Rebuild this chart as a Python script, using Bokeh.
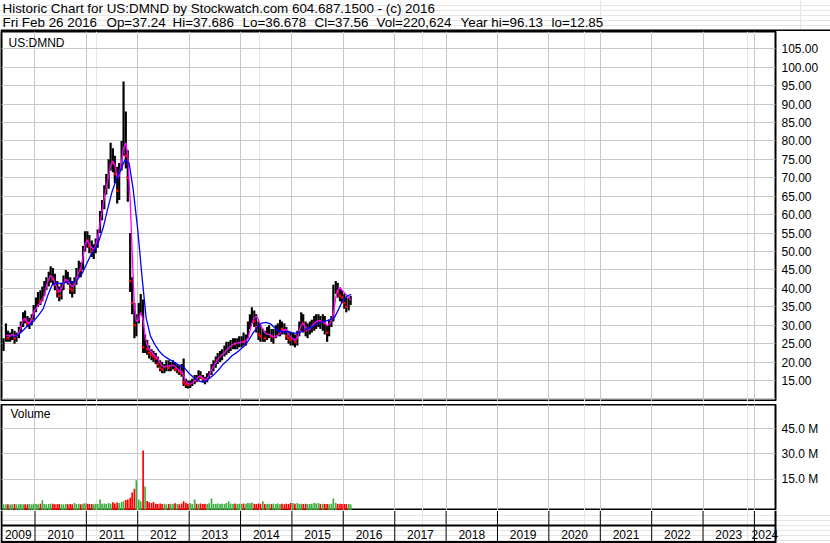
from datetime import datetime
import pandas as pd
from bokeh.plotting import figure
from bokeh.layouts import column
from bokeh.models import Range1d, FixedTicker, PrintfTickFormatter, ColumnDataSource, Label, Grid
from bokeh.core.properties import value
from bokeh.embed import file_html
from bokeh.resources import INLINE

# ---------------- data (semi-monthly periods, mid-May 2009 .. Feb 26 2016) ----------------
period_start = pd.date_range("2009-05-15", "2016-02-15", freq="SMS")

highs = [
    26.5, 30.5, 28.5, 28.0, 29.0, 28.5, 28.0, 29.5, 31.0, 33.5, 34.0, 32.5, 32.0, 33.0, 35.5,
    37.5, 39.0, 39.5, 40.5, 42.0, 43.0, 44.5, 46.0, 45.5, 44.0, 42.0, 40.5, 41.5, 43.5, 45.0, 44.5, 43.0, 42.0, 43.0, 45.5, 47.5, 47.0, 51.5, 55.5,
    55.5, 54.5, 53.0, 52.0, 53.5, 56.0, 61.0, 64.0, 68.0, 71.0, 75.0, 79.5, 78.0, 76.0, 73.0, 74.0, 80.0, 96.13, 88.0, 77.5, 55.0, 43.0, 36.0, 33.0,
    36.0, 38.5, 37.0, 27.5, 26.0, 24.5, 23.5, 23.0, 22.5, 21.5, 20.5, 20.0, 19.5, 20.5, 20.5, 20.0, 20.5, 20.0, 19.5, 19.0, 19.5, 21.0, 15.5, 15.0,
    15.0, 15.5, 16.5, 16.5, 17.8, 17.5, 16.5, 16.0, 17.0, 17.5, 19.5, 20.5, 21.5, 22.5, 23.0, 23.5, 24.5, 25.5, 25.5, 26.0, 26.5, 26.5, 26.5, 27.0,
    27.0, 28.0, 27.5, 31.0, 33.0, 34.9, 34.0, 33.0, 31.0, 30.0, 29.0, 28.5, 29.5, 30.0, 29.0, 29.0, 30.0, 30.5, 31.5, 31.0, 30.5, 29.5, 28.5, 28.0,
    28.0, 27.5, 28.5, 31.0, 33.5, 33.0, 31.0, 30.5, 31.0, 31.5, 32.5, 33.0, 33.0, 32.5, 33.0, 32.5, 30.0, 31.5, 32.5, 41.0, 42.0, 41.5, 40.0, 39.5,
    38.5, 37.5, 37.5, 38.0,
]
lows = [
    23.0, 25.5, 25.5, 25.5, 26.0, 25.0, 25.5, 26.5, 28.0, 29.5, 30.5, 29.5, 29.0, 30.0, 31.5,
    33.5, 35.0, 35.5, 36.5, 38.0, 39.5, 40.5, 41.5, 41.0, 39.5, 37.5, 36.5, 37.0, 39.5, 41.5, 41.0, 38.5, 37.5, 38.5, 41.0, 43.0, 43.0, 45.0, 50.0,
    51.0, 49.5, 48.5, 48.0, 49.5, 51.0, 55.0, 58.5, 61.5, 65.5, 67.0, 72.0, 71.5, 68.5, 63.0, 64.0, 72.0, 76.0, 72.5, 63.5, 39.0, 33.0, 26.5, 27.0,
    30.5, 33.0, 22.5, 22.5, 22.0, 21.0, 20.5, 20.0, 19.5, 18.5, 17.5, 17.0, 17.0, 17.5, 17.5, 17.5, 18.0, 17.5, 17.0, 16.5, 16.0, 13.5, 13.0, 12.85,
    13.0, 13.5, 14.0, 14.5, 15.0, 15.5, 14.5, 14.0, 14.5, 15.5, 16.5, 17.5, 18.5, 19.5, 20.0, 20.5, 21.5, 22.0, 22.5, 23.0, 23.5, 23.5, 23.5, 24.0,
    24.0, 24.5, 24.5, 26.5, 29.0, 30.5, 29.5, 28.0, 26.0, 25.5, 25.5, 25.5, 26.0, 26.5, 25.5, 25.0, 26.5, 27.0, 27.0, 27.5, 27.5, 26.0, 25.0, 24.5,
    24.5, 24.0, 24.5, 27.0, 28.5, 28.0, 27.0, 26.5, 27.5, 28.0, 28.5, 29.0, 29.5, 29.0, 28.5, 27.5, 25.5, 27.0, 29.5, 31.0, 38.5, 37.5, 36.5, 36.0,
    34.5, 33.5, 34.0, 35.5,
]
closes = [
    25.0, 28.0, 26.5, 27.0, 28.0, 26.5, 27.5, 28.5, 30.0, 32.5, 31.5, 30.5, 31.0, 32.0, 34.5,
    36.0, 37.5, 36.5, 39.0, 41.0, 42.0, 43.5, 44.0, 42.5, 41.0, 39.0, 38.0, 40.5, 42.5, 43.5, 42.0, 40.0, 39.5, 41.5, 44.0, 45.5, 45.0, 50.5, 53.5,
    53.0, 51.5, 50.0, 50.5, 52.5, 55.0, 59.5, 62.0, 66.5, 68.0, 73.5, 76.0, 74.0, 71.0, 66.5, 72.0, 77.5, 85.0, 76.0, 70.0, 42.0, 36.0, 30.0, 31.5,
    34.0, 36.0, 24.0, 24.5, 23.5, 22.5, 22.0, 21.5, 21.0, 19.5, 18.5, 18.0, 18.5, 19.0, 18.5, 19.0, 19.5, 18.0, 18.0, 17.5, 17.0, 14.5, 14.0, 13.8,
    14.0, 14.5, 15.5, 15.0, 16.5, 16.0, 15.5, 15.0, 16.0, 17.0, 18.5, 19.5, 20.0, 21.5, 22.0, 22.5, 23.0, 24.0, 24.5, 25.0, 25.5, 25.0, 25.5, 26.0,
    26.0, 25.5, 27.0, 30.0, 31.5, 33.5, 31.0, 29.5, 27.5, 27.0, 27.5, 26.5, 28.0, 28.5, 27.0, 27.5, 28.5, 29.0, 29.5, 29.0, 28.5, 27.0, 26.5, 26.0,
    26.0, 25.5, 27.5, 30.0, 32.0, 30.5, 28.5, 29.0, 30.0, 30.5, 31.0, 31.5, 31.5, 31.0, 31.5, 30.5, 28.0, 30.5, 31.5, 40.0, 40.5, 39.0, 38.0, 37.5,
    36.0, 35.0, 36.5, 37.56,
]
volumes_m = [
    0.5, 0.4, 0.4, 0.3, 0.4, 0.6, 0.4, 0.4, 0.6, 0.5, 0.4, 0.4, 0.6, 0.4, 0.8,
    0.6, 0.5, 0.8, 2.8, 0.6, 0.5, 0.6, 0.8, 0.7, 0.5, 0.4, 0.6, 0.4, 0.5, 0.6, 0.4, 0.6, 0.5, 1.2, 0.6, 0.7, 0.5, 0.8, 1.0,
    0.8, 0.6, 0.6, 0.5, 0.7, 0.6, 3.2, 0.8, 0.9, 0.6, 1.2, 0.8, 1.6, 0.9, 1.4, 1.1, 1.8, 2.2, 2.9, 3.3, 4.3, 7.4, 9.5, 14.6,
    3.2, 2.2, 32.0, 10.9, 2.4, 1.6, 1.1, 1.8, 0.8, 0.6, 0.9, 0.6, 0.7, 0.5, 0.6, 0.8, 0.6, 1.0, 0.6, 0.5, 0.9, 2.2, 1.1, 0.8,
    1.0, 0.6, 3.3, 0.8, 0.6, 0.9, 0.6, 0.7, 0.6, 1.0, 3.8, 0.8, 0.6, 0.9, 0.6, 0.8, 0.6, 1.1, 2.2, 0.7, 0.6, 0.9, 0.6, 0.8,
    0.6, 0.9, 0.7, 1.2, 1.0, 1.4, 0.8, 0.6, 0.9, 0.7, 2.2, 0.6, 0.6, 0.8, 0.6, 0.7, 0.6, 0.9, 0.6, 0.7, 0.5, 0.8, 0.6, 1.1,
    1.1, 0.8, 1.1, 0.6, 0.8, 0.6, 0.7, 0.6, 0.6, 0.8, 1.1, 0.9, 1.1, 0.6, 0.7, 0.6, 0.6, 0.5, 0.8, 3.8, 1.1, 0.6, 0.7, 0.6,
    0.6, 0.6, 0.6, 0.5,
]
ma_fast = [
    float("nan"), 27.0, 27.3, 27.0, 27.5, 27.2, 27.0, 28.0, 29.5, 31.5, 31.8, 30.8, 30.5, 31.5, 33.5,
    34.5, 35.5, 36.0, 37.0, 38.0, 40.5, 42.5, 43.5, 43.0, 41.5, 39.8, 39.0, 40.0, 41.5, 42.5, 42.0, 41.0, 40.5, 41.0, 42.5, 44.5, 45.5, 48.5, 52.0,
    53.0, 52.0, 51.0, 50.5, 51.5, 54.0, 57.5, 61.0, 64.5, 67.5, 70.5, 73.5, 74.5, 73.5, 70.0, 70.5, 74.5, 78.0, 79.5, 76.0, 64.0, 50.0, 35.0, 31.0,
    31.5, 33.5, 31.5, 27.0, 24.5, 23.5, 22.8, 22.0, 21.5, 21.0, 19.8, 19.0, 18.6, 18.9, 19.0, 19.0, 19.2, 18.8, 18.2, 17.8, 17.5, 16.3, 14.8, 14.2,
    14.0, 14.3, 15.0, 15.5, 16.0, 16.2, 15.6, 15.2, 15.5, 16.5, 17.8, 18.8, 19.8, 20.8, 21.5, 22.0, 22.5, 23.2, 23.8, 24.3, 24.8, 25.0, 25.2, 25.3,
    25.5, 25.3, 25.8, 26.5, 28.5, 30.5, 32.0, 32.5, 31.5, 30.0, 29.0, 28.0, 27.5, 27.5, 27.2, 26.8, 27.0, 27.3, 27.8, 28.5, 28.8, 28.8, 27.5, 26.8,
    26.3, 25.9, 26.5, 28.5, 30.0, 30.5, 29.5, 28.7, 29.0, 29.8, 30.5, 31.0, 31.3, 31.2, 31.0, 30.8, 29.8, 30.3, 31.2, 33.0, 37.5, 39.5, 40.3, 39.5,
    38.8, 38.3, 37.6, 36.8,
]
slow_dates = list(pd.date_range("2009-08-01", "2016-02-01", freq="MS")) + [pd.Timestamp("2016-02-26")]
ma_slow = [
    26.8, 27.3, 28.3, 29.5, 30.3,
    31.5, 33.0, 34.5, 38.0, 40.8, 41.5, 41.3, 41.5, 42.0, 41.5, 42.5, 44.0,
    46.5, 49.0, 50.5, 53.0, 56.5, 61.5, 66.0, 69.5, 72.0, 74.8, 74.0, 66.5,
    56.0, 43.0, 32.0, 27.0, 24.8, 23.0, 21.8, 21.0, 20.3, 19.6, 19.0, 18.3,
    16.9, 15.8, 15.0, 14.6, 14.9, 15.8, 16.8, 18.0, 19.5, 20.5, 21.7, 22.5,
    23.5, 24.5, 26.0, 28.0, 29.5, 30.6, 30.8, 30.4, 29.3, 28.4, 28.2, 28.3,
    28.0, 27.8, 28.1, 28.6, 29.2, 29.8, 30.4, 30.9, 31.2, 31.5, 32.2, 34.5,
    37.0, 38.0, 38.4,
]
price_ticks = [15, 20, 25, 30, 35, 40, 45, 50, 55, 60, 65, 70, 75, 80, 85, 90, 95, 100, 105]
price_grid = [10] + price_ticks
volume_ticks = [15, 30, 45]
years = list(range(2009, 2025))

title_line1 = "Historic Chart for US:DMND by Stockwatch.com 604.687.1500 - (c) 2016"
title_line2 = ["Fri Feb 26 2016", "Op=37.24", "Hi=37.686", "Lo=36.678", "Cl=37.56",
               "Vol=220,624", "Year hi=96.13", "lo=12.85"]
title_line2_x = [2, 106, 172, 242, 314, 376, 460, 551]

# ---------------- layout ----------------
FONT = "Liberation Sans"
W = 830
RB = 55
H_HEAD, H_PRICE, H_SEP, H_VOL, H_AX = 31, 370, 3, 106, 33
GRID = "#c8c8c8"
DAY = 86400000.0


def ms(d):
    return (pd.Timestamp(d) - pd.Timestamp("1970-01-01")).total_seconds() * 1000.0


x_start, x_end = ms("2009-05-08"), ms("2024-05-30")
xr = Range1d(start=x_start, end=x_end)
px_per_ms = (W - RB - 1) / (x_end - x_start)
# the date strip spans the whole canvas width with the same scale
xr_full = Range1d(start=x_start - 1 / px_per_ms, end=x_end + RB / px_per_ms)
year_ms = [ms(f"{y}-01-01") for y in years[1:]]

bar_x = [ms(d) + 7.5 * DAY for d in period_start]
up = [True] + [closes[i] >= closes[i - 1] for i in range(1, len(closes))]
src = ColumnDataSource(dict(
    x=bar_x, hi=highs, lo=lows, cl=closes, vol=volumes_m, ma=ma_fast,
    vcol=["#3cb043" if u else "#ff0000" for u in up],
))
down_src = ColumnDataSource(dict(
    x=[bar_x[i] for i in range(len(up)) if not up[i]],
    cl=[closes[i] for i in range(len(up)) if not up[i]],
))


def base_fig(height, y_range):
    f = figure(width=W, height=height, x_range=xr, y_range=y_range,
               x_axis_location=None, y_axis_location="right",
               toolbar_location=None, output_backend="svg",
               min_border_left=1, min_border_right=RB, min_border_top=0, min_border_bottom=0)
    f.outline_line_color = "black"
    f.outline_line_width = 2
    f.background_fill_color = "white"
    f.border_fill_color = "white"
    ax = f.yaxis[0]
    ax.axis_line_color = None
    ax.major_tick_line_color = None
    ax.minor_tick_line_color = None
    ax.major_tick_out = 0
    ax.major_tick_in = 0
    ax.major_label_standoff = 6
    ax.major_label_text_font = FONT
    ax.major_label_text_font_size = "12px"
    ax.major_label_text_color = "#000000"
    f.add_layout(Grid(dimension=0, ticker=FixedTicker(ticks=year_ms), grid_line_color=GRID))
    return f


def strip_fig(height, x_range, y_range):
    f = figure(width=W, height=height, x_range=x_range, y_range=y_range,
               x_axis_location=None, y_axis_location=None, toolbar_location=None,
               output_backend="svg", min_border=0, frame_align=False)
    f.outline_line_color = None
    f.background_fill_color = "white"
    f.border_fill_color = "white"
    return f


# header
head = strip_fig(H_HEAD, Range1d(0, W), Range1d(H_HEAD, 0))
head.text(x=[2], y=[8], text=[title_line1], text_font=value(FONT), text_font_size="13.4px",
          text_baseline="middle", text_align="left", text_color="black")
head.text(x=title_line2_x, y=[22] * len(title_line2), text=title_line2, text_font=value(FONT),
          text_font_size="13.4px", text_baseline="middle", text_align="left", text_color="black")
head.segment(x0=[0], x1=[W], y0=[H_HEAD - 1], y1=[H_HEAD - 1], line_width=2, line_color="black")

# price panel
p = base_fig(H_PRICE, Range1d(9.31, 109.69))
p.yaxis[0].ticker = FixedTicker(ticks=price_ticks)
p.yaxis[0].formatter = PrintfTickFormatter(format="%.2f")
p.ygrid.ticker = FixedTicker(ticks=price_grid)
p.ygrid.grid_line_color = GRID
p.vbar(x="x", width=15.5 * DAY, top="hi", bottom="lo", source=src, fill_color="black", line_color=None)
p.scatter(x="x", y="cl", source=down_src, marker="square", size=2.5, fill_color="#ff0000", line_color=None)
p.line(x="x", y="ma", source=src, line_color="#ff00ff", line_width=1.3)
p.line(x=[ms(d) for d in slow_dates], y=ma_slow, line_color="#0000ff", line_width=1.3)
p.add_layout(Label(x=7, y=H_PRICE - 11, x_units="screen", y_units="screen", text="US:DMND",
                   text_font=FONT, text_font_size="12px", text_baseline="middle", text_color="black"))

# separator between panels
sep = strip_fig(H_SEP, Range1d(0, W), Range1d(H_SEP, 0))
sep.segment(x0=[0], x1=[W], y0=[0.5], y1=[0.5], line_width=2, line_color="black")

# volume panel (bars rise from the panel floor)
vol_lo, vol_hi = -3.24, 59.12
v = base_fig(H_VOL, Range1d(vol_lo, vol_hi))
v.yaxis[0].ticker = FixedTicker(ticks=volume_ticks)
v.yaxis[0].formatter = PrintfTickFormatter(format="%.1f M")
v.ygrid.ticker = FixedTicker(ticks=volume_ticks)
v.ygrid.grid_line_color = GRID
v.vbar(x="x", width=12 * DAY, top="vol", bottom=vol_lo, source=src, fill_color="vcol", line_color=None)
v.add_layout(Label(x=9, y=H_VOL - 9, x_units="screen", y_units="screen", text="Volume",
                   text_font=FONT, text_font_size="12px", text_baseline="middle", text_color="black"))

# date strip
ax = strip_fig(H_AX, xr_full, Range1d(H_AX, 0))
ax.segment(x0=year_ms, x1=year_ms, y0=[0] * len(year_ms), y1=[H_AX] * len(year_ms),
           line_color="black", line_width=1)
ax.segment(x0=[x_start, x_start], x1=[x_end, x_end], y0=[15, H_AX - 1.5], y1=[15, H_AX - 1.5],
           line_color="black", line_width=2)
ax.segment(x0=[x_start, x_end], x1=[x_start, x_end], y0=[0, 0], y1=[H_AX, H_AX],
           line_color="black", line_width=2)
centers = []
for y in years:
    a = max(ms(f"{y}-01-01"), x_start)
    b = min(ms(f"{y + 1}-01-01"), x_end)
    centers.append((a + b) / 2)
ax.text(x=centers, y=[24] * len(years), text=[str(y) for y in years], text_font=value(FONT),
        text_font_size="12px", text_align="center", text_baseline="middle", text_color="black")

layout = column(head, p, sep, v, ax, spacing=0)
open("out.html", "w").write(file_html(layout, INLINE))
